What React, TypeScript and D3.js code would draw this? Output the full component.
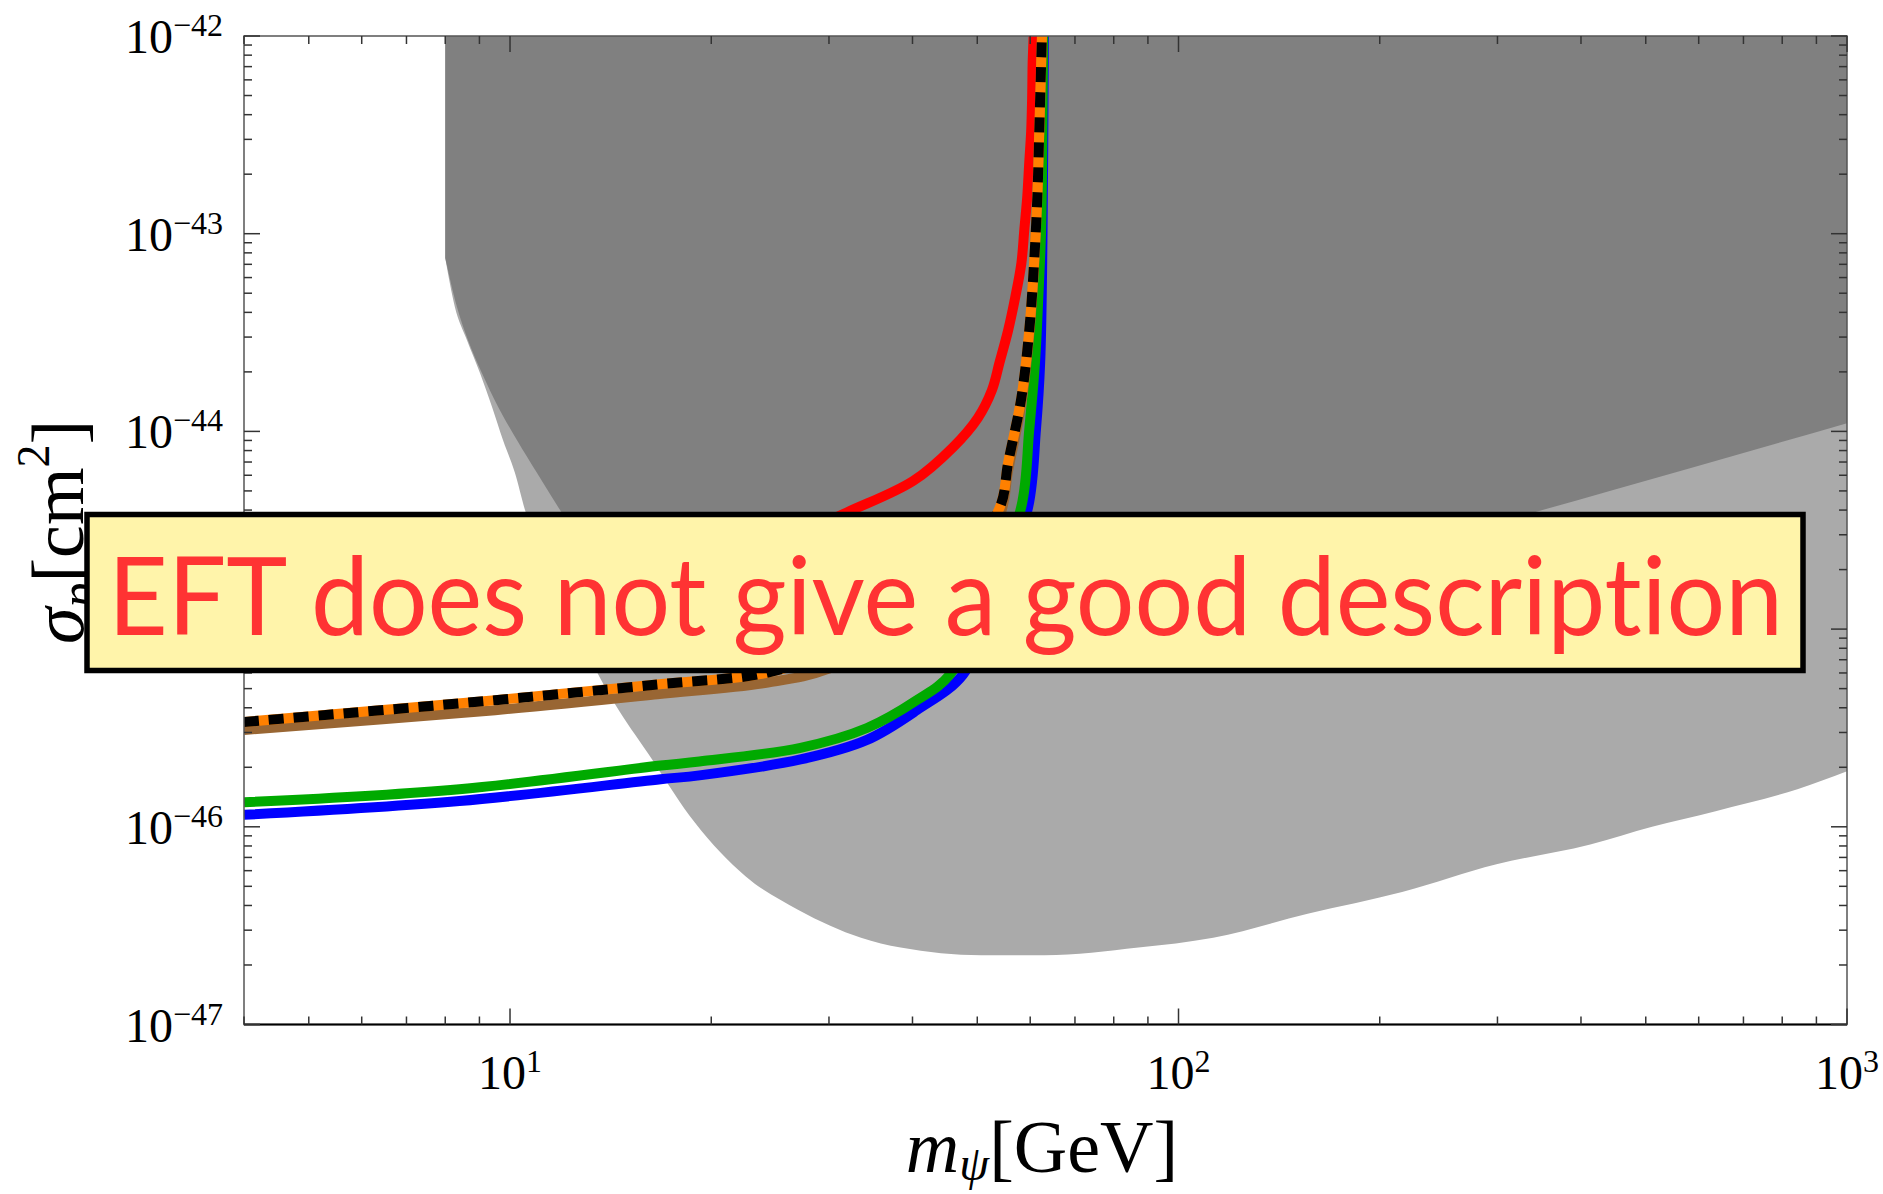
import * as d3 from 'd3';

// plot frame (pixels)
const W = 1883;
const H = 1194;
const plotLeft = 244;
const plotRight = 1847;
const plotTop = 36;
const plotBottom = 1024.5;

const xDomain = [4, 1000];
const yDomain = [1e-47, 1e-42];
const xTickExps = ['1', '2', '3'];
const yTickExps = ['\u221247', '\u221246', '\u221245', '\u221244', '\u221243', '\u221242'];

// excluded regions: lower edge of each shaded band
const lightMass = [8.0, 8.27, 8.62, 9.02, 9.40, 9.76, 10.17, 10.53, 11.88, 13.6, 14.3, 16.1, 18.9, 22.5, 27.0, 33.5, 38.4, 50.7, 63.0, 87.1, 112.7, 156, 216, 299, 413, 511, 636, 843, 1000];
const lightSigma = [7.53e-44, 4.26e-44, 2.9e-44, 1.97e-44, 1.33e-44, 9.04e-45, 6.17e-45, 4.0e-45, 1.58e-45, 5.75e-46, 4.27e-46, 2.34e-46, 1.05e-46, 5.62e-47, 3.8e-47, 2.75e-47, 2.45e-47, 2.24e-47, 2.24e-47, 2.45e-47, 2.75e-47, 3.63e-47, 4.68e-47, 6.46e-47, 8.13e-47, 1.0e-46, 1.2e-46, 1.55e-46, 1.91e-46];

const darkMass = [8.0, 8.33, 8.65, 9.08, 9.60, 10.24, 10.97, 11.88, 14, 18, 25, 35, 50, 80, 120, 200, 340, 443, 1000];
const darkSigma = [7.53e-44, 4.26e-44, 2.9e-44, 1.97e-44, 1.33e-44, 9.04e-45, 6.17e-45, 4.0e-45, 1.78e-45, 1.0e-45, 8.32e-46, 7.94e-46, 8.71e-46, 1.05e-45, 1.41e-45, 2.34e-45, 3.89e-45, 5.01e-45, 1.1e-44];

// model curves
const redMass = [4, 7, 10, 15, 20, 25, 31.9, 40.1, 46.0, 50.1, 52.6, 54.0, 55.6, 57.0, 58.2, 58.8, 59.4, 59.8, 60.2, 60.4, 60.5, 60.7, 60.8];
const redSigma = [1.0e-45, 1.17e-45, 1.35e-45, 1.66e-45, 2.0e-45, 2.69e-45, 3.89e-45, 5.62e-45, 8.32e-45, 1.17e-44, 1.62e-44, 2.24e-44, 3.24e-44, 4.79e-44, 7.08e-44, 1.05e-43, 1.55e-43, 2.29e-43, 3.31e-43, 4.9e-43, 7.24e-43, 1.0e-42, 1.58e-42];

const blueMass = [4, 8.4, 16.8, 19.2, 27.2, 34.2, 40.6, 47.6, 54.1, 59.6, 61.2, 62.1, 62.6, 62.9, 63.0];
const blueSigma = [1.15e-46, 1.35e-46, 1.74e-46, 1.82e-46, 2.19e-46, 2.75e-46, 3.89e-46, 5.89e-46, 1.58e-45, 4.17e-45, 1.02e-44, 2.24e-44, 1.0e-43, 1.0e-42, 1.58e-42];

const greenMass = [4, 8.4, 16.8, 19.2, 27.2, 34.2, 40.6, 45.5, 52.3, 58.2, 59.8, 61.0, 61.7, 62.3, 62.6, 62.75, 62.8];
const greenSigma = [1.33e-46, 1.55e-46, 2.04e-46, 2.14e-46, 2.51e-46, 3.16e-46, 4.37e-46, 5.89e-46, 1.58e-45, 4.17e-45, 1.02e-44, 2.24e-44, 4.79e-44, 1.05e-43, 4.0e-43, 1.0e-42, 1.58e-42];

const brownMass = [4, 9.5, 16.6, 24.3, 30.0, 40, 47, 54.1, 55.6, 58.2, 59.8, 60.8, 61.9, 62.5, 62.6];
const brownSigma = [3.09e-46, 3.89e-46, 4.68e-46, 5.37e-46, 6.31e-46, 1.07e-45, 1.82e-45, 3.8e-45, 6.31e-45, 1.38e-44, 3.09e-44, 6.76e-44, 3.16e-43, 1.0e-42, 1.58e-42];

const dashMass = [4, 9.5, 16.6, 24.3, 32.3, 40, 47, 54.1, 55.6, 58.2, 59.8, 60.8, 61.5, 61.9, 62.3, 62.5, 62.6];
const dashSigma = [3.39e-46, 4.37e-46, 5.25e-46, 6.03e-46, 8.32e-46, 1.2e-45, 2.0e-45, 4.17e-45, 6.92e-45, 1.48e-44, 3.24e-44, 7.08e-44, 1.55e-43, 3.31e-43, 7.24e-43, 1.07e-42, 1.58e-42];

const serif = "'Liberation Serif', 'Times New Roman', serif";

const zip = (ms: number[], ss: number[]) => ms.map((m, i) => [m, ss[i]] as [number, number]);

export default function App() {
  const x = d3.scaleLog().domain(xDomain).range([plotLeft, plotRight]);
  const y = d3.scaleLog().domain(yDomain).range([plotBottom, plotTop]);

  const isMajor = (v: number) => Math.abs(Math.log10(v) - Math.round(Math.log10(v))) < 1e-9;
  const xTicks = x.ticks();
  const yTicks = y.ticks();
  const xMajor = xTicks.filter(isMajor);
  const yMajor = yTicks.filter(isMajor);

  const region = d3.area<[number, number]>()
    .x(d => x(d[0]))
    .y0(plotTop)
    .y1(d => y(d[1]))
    .curve(d3.curveMonotoneX);

  const line = d3.line<[number, number]>()
    .x(d => x(d[0]))
    .y(d => y(d[1]))
    .curve(d3.curveCatmullRom.alpha(0.5));

  const curves = [
    {data: zip(redMass, redSigma), color: '#FF0000'},
    {data: zip(blueMass, blueSigma), color: '#0000FF'},
    {data: zip(greenMass, greenSigma), color: '#00AA00'},
    {data: zip(brownMass, brownSigma), color: '#996633'},
    {data: zip(dashMass, dashSigma), color: '#FF8000'},
  ];

  return (
    <svg width={W} height={H} style={{position: 'absolute', left: 0, top: 0, background: '#fff'}}>
      <defs>
        <clipPath id="plotArea">
          <rect x={plotLeft} y={plotTop} width={plotRight - plotLeft} height={plotBottom - plotTop} />
        </clipPath>
      </defs>

      <g clipPath="url(#plotArea)">
        <path d={region(zip(lightMass, lightSigma)) || ''} fill="#AAAAAA" />
        <path d={region(zip(darkMass, darkSigma)) || ''} fill="#808080" />
        {curves.map((c, i) => (
          <path key={i} d={line(c.data) || ''} fill="none" stroke={c.color} strokeWidth={10} />
        ))}
        <path d={line(zip(dashMass, dashSigma)) || ''} fill="none" stroke="#000"
          strokeWidth={10} strokeDasharray="15 10" />
      </g>

      {/* frame */}
      <rect x={plotLeft} y={plotTop} width={plotRight - plotLeft} height={plotBottom - plotTop}
        fill="none" stroke="#555" strokeWidth={1.5} />
      <line x1={plotLeft} x2={plotRight} y1={plotBottom} y2={plotBottom} stroke="#000" strokeWidth={2} />

      {/* ticks */}
      {xTicks.map((t, i) => {
        const len = isMajor(t) ? 16 : 8;
        return (
          <g key={'xt' + i} stroke="#333" strokeWidth={1.5}>
            <line x1={x(t)} x2={x(t)} y1={plotBottom} y2={plotBottom - len} />
            <line x1={x(t)} x2={x(t)} y1={plotTop} y2={plotTop + len} />
          </g>
        );
      })}
      {yTicks.map((t, i) => {
        const len = isMajor(t) ? 16 : 8;
        return (
          <g key={'yt' + i} stroke="#333" strokeWidth={1.5}>
            <line x1={plotLeft} x2={plotLeft + len} y1={y(t)} y2={y(t)} />
            <line x1={plotRight} x2={plotRight - len} y1={y(t)} y2={y(t)} />
          </g>
        );
      })}

      {/* tick labels */}
      {xMajor.map((t, i) => (
        <text key={'xl' + i} x={x(t)} y={1089} textAnchor="middle" fontFamily={serif} fontSize={48} fill="#000">
          <tspan>10</tspan>
          <tspan fontSize={32} dy={-17}>{xTickExps[i]}</tspan>
        </text>
      ))}
      {yMajor.map((t, i) => (
        <text key={'yl' + i} x={223} y={y(t) + 17} textAnchor="end" fontFamily={serif} fontSize={48} fill="#000">
          <tspan>10</tspan>
          <tspan fontSize={32} dy={-17}>{yTickExps[i]}</tspan>
        </text>
      ))}

      {/* axis titles */}
      <text x={1042} y={1172} textAnchor="middle" fontFamily={serif} fontSize={74} fill="#000">
        <tspan fontStyle="italic">m</tspan>
        <tspan fontStyle="italic" fontSize={48} dy={8}>ψ</tspan>
        <tspan dy={-8}>[GeV]</tspan>
      </text>
      <text transform="translate(83,532) rotate(-90)" textAnchor="middle" fontFamily={serif} fontSize={74} fill="#000">
        <tspan fontStyle="italic">σ</tspan>
        <tspan fontStyle="italic" fontSize={50} dy={12}>p</tspan>
        <tspan dy={-12}>[cm</tspan>
        <tspan fontSize={46} dy={-34}>2</tspan>
        <tspan dy={34}>]</tspan>
      </text>

      {/* annotation */}
      <rect x={87} y={514.5} width={1716} height={156} fill="#FFF4AA" stroke="#000" strokeWidth={5.5} />
      <text x={108} y={635} fontFamily="Lato, 'Open Sans', sans-serif" fontSize={108} fill="#FF3333"
        textLength={1675} lengthAdjust="spacingAndGlyphs"
        style={{fontVariantLigatures: 'none', fontFeatureSettings: "'liga' 0"}}>
        EFT does not give a good description
      </text>
    </svg>
  );
}
